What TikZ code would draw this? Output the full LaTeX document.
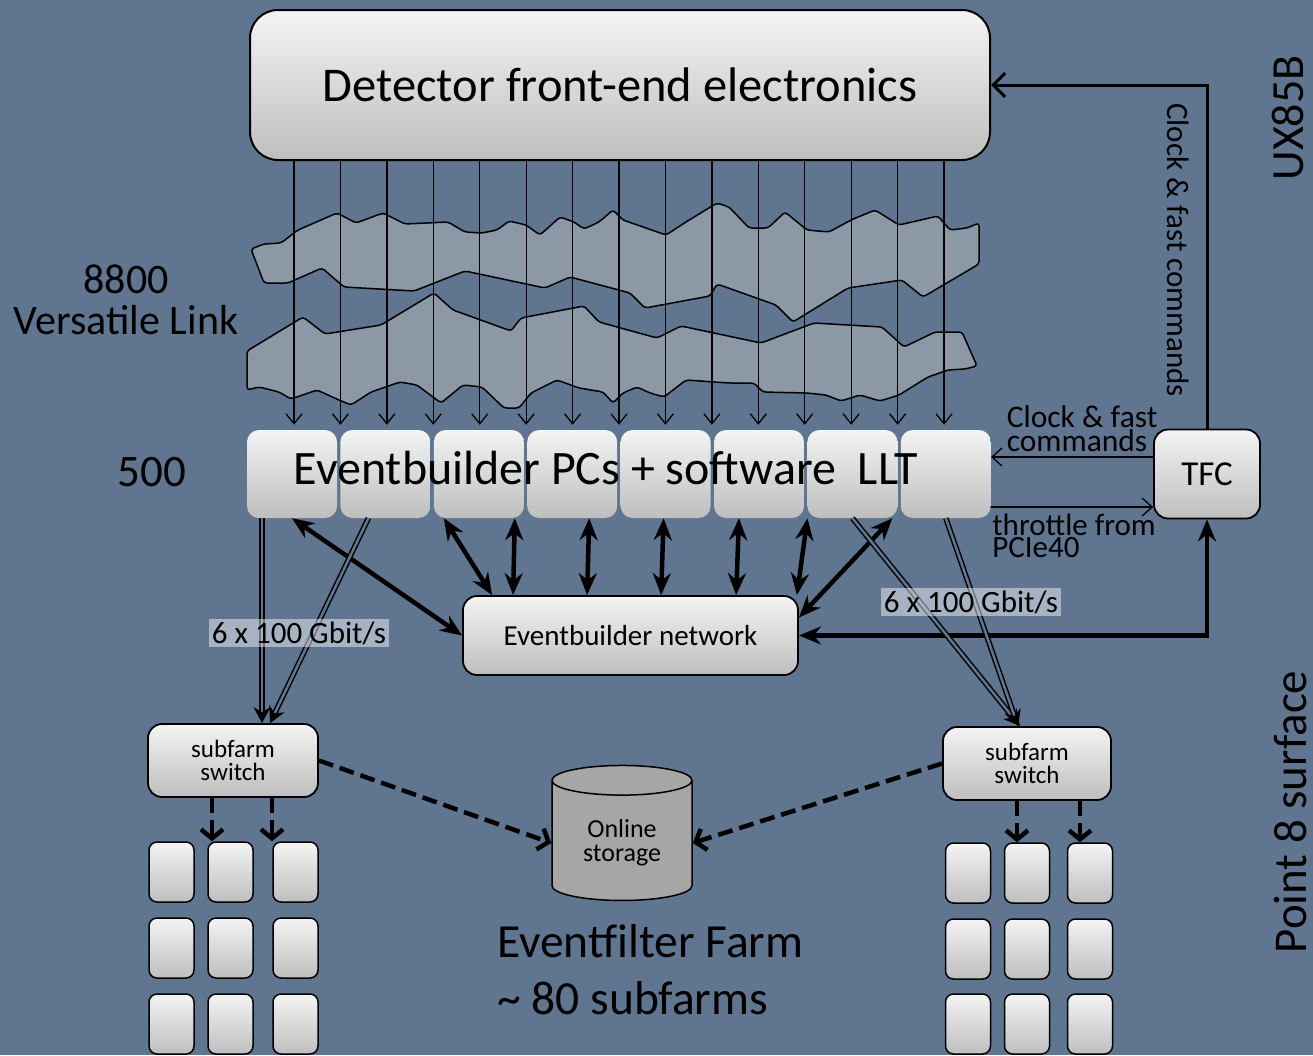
\documentclass[tikz,border=0pt]{standalone}
\usepackage{fontspec}
\setmainfont{Carlito}
\usetikzlibrary{shapes.geometric, arrows.meta, positioning}
\definecolor{slate}{RGB}{96,117,144}
\definecolor{cloud}{RGB}{140,152,166}
\definecolor{boxtop}{RGB}{244,244,244}
\definecolor{boxbot}{RGB}{190,190,190}
\newcommand{\fs}[2]{\fontsize{#1}{#2}\selectfont}
\tikzstyle{block} = [rectangle, draw, line width=1.8pt, top color=boxtop,
bottom color=boxbot, rounded corners=14pt, align=center, inner sep=2pt]
\tikzstyle{pcbox} = [rectangle, top color=boxtop, bottom color=boxbot,
rounded corners=12pt, minimum width=90pt, minimum height=88pt]
\tikzstyle{farm} = [block, rounded corners=8pt, line width=1.5pt,
minimum width=45pt, minimum height=60pt]
\tikzstyle{band} = [draw, line width=1.5pt, fill=cloud, rounded corners=3pt]
\tikzstyle{fibre} = [draw, line width=1.3pt, -{Straight Barb[length=10pt,width=16pt]}]
\tikzstyle{bus} = [draw, line width=4.5pt,
{Stealth[length=22pt,width=18pt]}-{Stealth[length=22pt,width=18pt]}]
\tikzstyle{link} = [draw, line width=1.5pt, double=slate, double distance=2.5pt,
-{Stealth[length=16pt,width=17pt]}]
\tikzstyle{dashline} = [draw, line width=4.5pt, dash pattern=on 15pt off 7pt,
-{Straight Barb[length=9pt,width=22pt]}]
\tikzstyle{ctrl} = [draw, line width=1.3pt, -{Straight Barb[length=10pt,width=18pt]}]
\tikzstyle{rate} = [fill=white, fill opacity=0.45, text opacity=1, inner sep=3pt,
font=\fs{31}{31}]

\begin{document}
\begin{tikzpicture}[x=1pt, y=-1pt]
    \useasboundingbox (0,0) rectangle (1313,1055);
    \fill[slate] (0,0) rectangle (1313,1055);

    % the two fibre bundles
    \draw[band] (251,249) -- (264,244) -- (281,243) -- (298,230) -- (337,213) -- (356,223) -- (383,213) -- (405,224) -- (448,222) -- (465,232) -- (482,233) -- (497,230) -- (509,221) -- (526,225) -- (540,235) -- (560,217) -- (574,222) -- (584,229) -- (599,222) -- (613,210) -- (623,220) -- (666,235) -- (686,222) -- (717,203) -- (729,207) -- (749,228) -- (768,228) -- (785,212) -- (807,230) -- (829,232) -- (851,220) -- (875,210) -- (899,225) -- (938,216) -- (950,230) -- (967,228) -- (979,223) -- (979,264) -- (923,297) -- (902,280) -- (848,288) -- (793,322) -- (776,305) -- (717,284) -- (710,296) -- (645,308) -- (630,293) -- (570,277) -- (545,288) -- (465,271) -- (414,291) -- (344,287) -- (322,268) -- (288,283) -- (264,283) -- cycle;
    \draw[band] (247,351) -- (303,317) -- (325,334) -- (381,325) -- (434,293) -- (453,310) -- (511,331) -- (521,318) -- (584,306) -- (599,322) -- (657,338) -- (681,326) -- (761,343) -- (814,323) -- (882,327) -- (904,347) -- (935,332) -- (962,332) -- (977,366) -- (965,369) -- (948,370) -- (928,377) -- (899,395) -- (880,401) -- (860,395) -- (841,401) -- (826,395) -- (807,393) -- (763,392) -- (754,383) -- (729,383) -- (686,380) -- (664,397) -- (650,393) -- (637,387) -- (623,393) -- (613,403) -- (603,392) -- (579,388) -- (557,380) -- (531,393) -- (519,408) -- (504,408) -- (482,387) -- (463,385) -- (441,403) -- (417,385) -- (400,382) -- (371,392) -- (351,405) -- (339,400) -- (317,390) -- (291,399) -- (279,392) -- (259,387) -- (247,390) -- cycle;

    \node [block, line width=2pt, rounded corners=28pt, minimum width=740pt, minimum height=150pt, font=\fs{48.5}{48}] (det) at (620,85) {Detector front-end electronics};

    % eventbuilder PCs
    \node [pcbox] (eb1) at (292,474) {};
    \foreach \i [count=\j from 1] in {2,...,8}
        \node [pcbox, right=3pt of eb\j] (eb\i) {};
    \node [font=\fs{48}{48}] (ebtext) at (606,468) {Eventbuilder PCs + software\ \ LLT};
    \coordinate (ebtop) at ([yshift=5pt]eb1.north);

    \foreach \i in {0,...,14} {
        \coordinate (ftop\i) at ([xshift=45+46.43*\i]det.south west);
        \draw[fibre] (ftop\i) -- (ftop\i |- ebtop);
    }

    \node [block, minimum width=106pt, minimum height=89pt, font=\fs{35}{35}] (tfc) at (1207,474) {TFC};
    \node [block, minimum width=335pt, minimum height=79pt, font=\fs{29}{29}] (net) at (630.5,635.5) {Eventbuilder network};
    \node [block, minimum width=170pt, minimum height=73pt, font=\fs{25}{23}] (swL) at (233,760.5) {subfarm\\switch};
    \node [block, minimum width=168pt, minimum height=73pt, font=\fs{25}{23}] (swR) at (1027,763.5) {subfarm\\switch};
    \node [cylinder, shape border rotate=90, aspect=0.35, draw, line width=1.5pt, fill=black!35, minimum width=140pt, minimum height=135pt, align=center, font=\fs{26}{24}] (store) at (622,843) {Online\\storage};

    % farm nodes
    \foreach \x [count=\c] in {171.5,230.5,295.5}
        \foreach \y [count=\r] in {872,948,1024}
            \node [farm] (fL\r\c) at (\x,\y) {};
    \foreach \x [count=\c] in {968,1027,1090}
        \foreach \y [count=\r] in {873,949,1024}
            \node [farm] (fR\r\c) at (\x,\y) {};

    % eventbuilder network links
    \draw[bus] (eb1.south) -- (net.west);
    \draw[bus] ([xshift=-35pt]eb3.south) -- ([xshift=30pt]net.north west);
    \draw[bus] ([xshift=36pt]eb3.south) -- ([xshift=51pt]net.north west);
    \draw[bus] ([xshift=17pt]eb4.south) -- ([xshift=125pt]net.north west);
    \draw[bus] ([xshift=-2pt]eb5.south) -- ([xshift=199pt]net.north west);
    \draw[bus] ([xshift=-20pt]eb6.south) -- ([xshift=274pt]net.north west);
    \draw[bus] ([xshift=-45pt]eb7.south) -- ([xshift=-2pt]net.north east);
    \draw[bus] ([xshift=40pt]eb7.south) -- ([yshift=18pt]net.east);
    \draw[bus] (tfc.south) |- (net.east);

    % links to the subfarms
    \draw[link] ([xshift=-30pt]eb1.south) -- ([xshift=29pt]swL.north);
    \draw[link] ([xshift=-17pt]eb2.south) -- ([xshift=37pt]swL.north);
    \draw[link] (eb7.south) -- ([xshift=-7pt]swR.north);
    \draw[link] (eb8.south) -- ([xshift=-9pt]swR.north);
    \node [rate] (rateL) at (299,633) {6 x 100 Gbit/s};
    \node [rate] (rateR) at (971,602) {6 x 100 Gbit/s};

    % timing and fast control
    \draw[ctrl] ([yshift=17pt]tfc.west) -- node [above, align=left, xshift=10pt, yshift=3pt, inner sep=2pt, font=\fs{31.5}{24}] (clk) {Clock \& fast\\commands} ([yshift=17pt]eb8.east);
    \draw[ctrl] ([yshift=-33pt]eb8.east) -- node [below, align=left, xshift=2pt, yshift=-4pt, inner sep=2pt, font=\fs{31}{22}] (thr) {throttle from\\PCIe40} ([yshift=-33pt]tfc.west);
    \draw[line width=3pt, -{Straight Barb[length=12pt,width=24pt]}] (tfc.north) |- (det.east);
    \node [rotate=-90, inner sep=0pt, font=\fs{31}{31}] (clkv) at (1178,250) {Clock \& fast commands};

    % storage
    \draw[dashline] (swL.east) -- (store.west);
    \draw[dashline] (swR.west) -- (store.east);
    \coordinate (dL1) at ([xshift=-21pt]swL.south);
    \coordinate (dL2) at ([xshift=39pt]swL.south);
    \coordinate (dR1) at ([xshift=-10pt]swR.south);
    \coordinate (dR2) at ([xshift=53pt]swR.south);
    \draw[dashline] (dL1) -- (dL1 |- fL12.north);
    \draw[dashline] (dL2) -- (dL2 |- fL13.north);
    \draw[dashline] (dR1) -- (dR1 |- fR12.north);
    \draw[dashline] (dR2) -- (dR2 |- fR13.north);

    % side labels
    \node [align=center, font=\fs{42}{41}] (vl) at (126,300) {8800\\Versatile Link};
    \node [font=\fs{45}{45}] (n500) at (152,472) {500};
    \node [align=left, anchor=west, inner sep=0pt, font=\fs{47.5}{57}] (eff) at (497,970) {Eventfilter Farm\\\textasciitilde{} 80 subfarms};
    \node [rotate=90, inner sep=0pt, font=\fs{46}{46}] (ux) at (1288,118) {UX85B};
    \node [rotate=90, inner sep=0pt, font=\fs{47}{47}] (pt8) at (1290,812) {Point 8 surface};
\end{tikzpicture}
\end{document}
